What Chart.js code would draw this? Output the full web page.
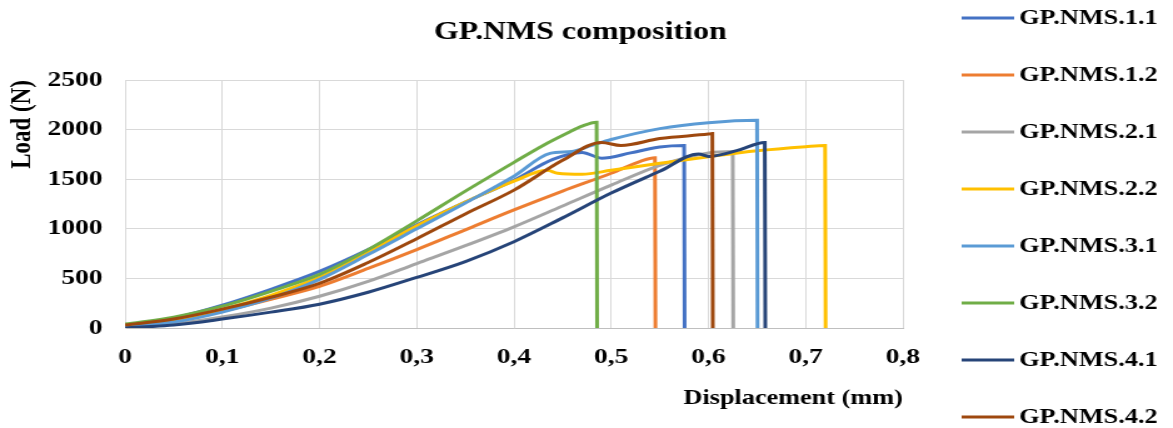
<!DOCTYPE html>
<html>
<head>
<meta charset="utf-8">
<title>GP.NMS composition</title>
<script src="https://cdn.jsdelivr.net/npm/chart.js@4.4.1/dist/chart.umd.min.js"></script>
<style>
  html, body { margin: 0; padding: 0; background: #fff; overflow: hidden; }
  /* the source picture is stretched sideways, so the canvas is too */
  #wrap { width: 938px; height: 428px; transform: scaleX(1.2505); transform-origin: 0 0; }
</style>
</head>
<body>
<div id="wrap"><canvas id="chart" width="938" height="428"></canvas></div>
<script>
// series labels and colours
const seriesNames = ['GP.NMS.1.1', 'GP.NMS.1.2', 'GP.NMS.2.1', 'GP.NMS.2.2',
                     'GP.NMS.3.1', 'GP.NMS.3.2', 'GP.NMS.4.1', 'GP.NMS.4.2'];
const seriesColors = ['#4472C4', '#ED7D31', '#A5A5A5', '#FFC000',
                      '#5B9BD5', '#70AD47', '#264478', '#9E480E'];

// displacement (mm) / load (N)
const disp11 = [0, 0.05, 0.1, 0.15, 0.2, 0.25, 0.3, 0.35, 0.4, 0.44, 0.47, 0.49, 0.52, 0.55, 0.575, 0.5755];
const load11 = [20, 100, 230, 390, 570, 790, 1040, 1270, 1490, 1700, 1770, 1712, 1765, 1825, 1840, 0];

const disp12 = [0, 0.05, 0.1, 0.15, 0.2, 0.25, 0.3, 0.35, 0.4, 0.45, 0.5, 0.53, 0.545, 0.5455];
const load12 = [10, 70, 170, 290, 420, 600, 790, 990, 1190, 1380, 1560, 1680, 1717, 0];

const disp21 = [0, 0.05, 0.1, 0.15, 0.2, 0.25, 0.3, 0.35, 0.4, 0.45, 0.5, 0.55, 0.6, 0.625, 0.6255];
const load21 = [0, 40, 110, 200, 320, 470, 650, 830, 1020, 1230, 1440, 1640, 1765, 1780, 0];

const disp22 = [0, 0.05, 0.1, 0.15, 0.2, 0.25, 0.3, 0.35, 0.4, 0.434, 0.445, 0.47, 0.5, 0.55, 0.6, 0.65, 0.7, 0.72, 0.7205];
const load22 = [10, 80, 190, 330, 510, 760, 1030, 1270, 1480, 1590, 1560, 1550, 1590, 1660, 1727, 1787, 1828, 1840, 0];

const disp31 = [0, 0.05, 0.1, 0.15, 0.2, 0.25, 0.3, 0.35, 0.4, 0.437, 0.46, 0.48, 0.5, 0.55, 0.6, 0.65, 0.6505];
const load31 = [10, 60, 160, 300, 490, 740, 1000, 1260, 1530, 1760, 1780, 1840, 1900, 2010, 2070, 2095, 0];

const disp32 = [0, 0.05, 0.1, 0.15, 0.2, 0.25, 0.3, 0.35, 0.4, 0.43, 0.455, 0.47, 0.485, 0.4855];
const load32 = [40, 110, 220, 370, 540, 790, 1080, 1380, 1670, 1840, 1965, 2035, 2075, 0];

const disp41 = [0, 0.05, 0.1, 0.15, 0.2, 0.25, 0.3, 0.35, 0.4, 0.45, 0.5, 0.55, 0.59, 0.6, 0.63, 0.658, 0.6585];
const load41 = [0, 30, 90, 160, 240, 360, 510, 670, 870, 1110, 1360, 1580, 1755, 1730, 1790, 1870, 0];

const disp42 = [0, 0.05, 0.1, 0.15, 0.2, 0.25, 0.3, 0.35, 0.4, 0.45, 0.49, 0.51, 0.55, 0.6, 0.604, 0.6045];
const load42 = [30, 90, 190, 310, 450, 660, 900, 1150, 1390, 1690, 1870, 1840, 1910, 1955, 1960, 0];

const dispSets = [disp11, disp12, disp21, disp22, disp31, disp32, disp41, disp42];
const loadSets = [load11, load12, load21, load22, load31, load32, load41, load42];

// axis ticks
const xTickValues = [0, 0.1, 0.2, 0.3, 0.4, 0.5, 0.6, 0.7, 0.8];
const yTickValues = [0, 500, 1000, 1500, 2000, 2500];

const FONT = "'Liberation Serif', 'Times New Roman', serif";
Chart.defaults.font.family = FONT;
Chart.defaults.font.weight = 'bold';
Chart.defaults.color = '#000';

// title and the legend drawn by hand (the legend runs off the bottom)
const sidePlugin = {
    id: 'side',
    afterDraw(chart) {
        const ctx = chart.ctx;
        ctx.save();
        ctx.fillStyle = '#000';
        ctx.font = 'bold 25.5px ' + FONT;
        ctx.textAlign = 'center';
        ctx.textBaseline = 'alphabetic';
        ctx.fillText('GP.NMS composition', 464, 39);

        ctx.font = 'bold 21px ' + FONT;
        ctx.textAlign = 'left';
        ctx.textBaseline = 'middle';
        chart.data.datasets.forEach((ds, i) => {
            const y = 18 + i * 57;
            ctx.strokeStyle = ds.borderColor;
            ctx.lineWidth = 3;
            ctx.beginPath();
            ctx.moveTo(769, y);
            ctx.lineTo(811, y);
            ctx.stroke();
            ctx.fillText(ds.label, 815, y + 1);
        });
        ctx.restore();
    }
};

const ctx = document.getElementById('chart').getContext('2d');
new Chart(ctx, {
    type: 'line',
    data: {
        datasets: seriesNames.map((name, i) => ({
            label: name,
            data: dispSets[i].map((x, j) => ({ x: x, y: loadSets[i][j] })),
            borderColor: seriesColors[i],
            backgroundColor: seriesColors[i],
            borderWidth: 3,
            pointRadius: 0,
            cubicInterpolationMode: 'monotone',
            order: seriesNames.length - i
        }))
    },
    options: {
        responsive: false,
        animation: false,
        devicePixelRatio: 1,
        layout: { padding: { left: 0, right: 216, top: 80, bottom: 1 } },
        plugins: {
            legend: { display: false },
            title: { display: false },
            tooltip: { enabled: false }
        },
        scales: {
            x: {
                type: 'linear',
                min: 0,
                max: 0.8,
                afterBuildTicks: scale => { scale.ticks = xTickValues.map(v => ({ value: v })); },
                afterFit: scale => { scale.height = 99; },
                ticks: {
                    font: { size: 22, weight: 'bold' },
                    padding: 16,
                    maxRotation: 0,
                    callback: v => v === 0 ? '0' : v.toFixed(1).replace('.', ',')
                },
                grid: { color: '#d9d9d9', drawTicks: false },
                border: { color: '#bfbfbf', width: 1 },
                title: {
                    display: true,
                    text: 'Displacement (mm)',
                    align: 'end',
                    font: { size: 21, weight: 'bold' },
                    padding: { top: 16, bottom: 16 }
                }
            },
            y: {
                type: 'linear',
                min: 0,
                max: 2500,
                afterBuildTicks: scale => { scale.ticks = yTickValues.map(v => ({ value: v })); },
                afterFit: scale => { scale.width = 100; },
                ticks: {
                    font: { size: 22, weight: 'bold' },
                    padding: 18,
                    callback: v => String(v)
                },
                grid: { color: '#d9d9d9', drawTicks: false },
                border: { color: '#d9d9d9' },
                title: {
                    display: true,
                    text: 'Load (N)',
                    align: 'end',
                    font: { size: 23, weight: 'bold' },
                    padding: { top: 4, bottom: 3 }
                }
            }
        }
    },
    plugins: [sidePlugin]
});
</script>
</body>
</html>
